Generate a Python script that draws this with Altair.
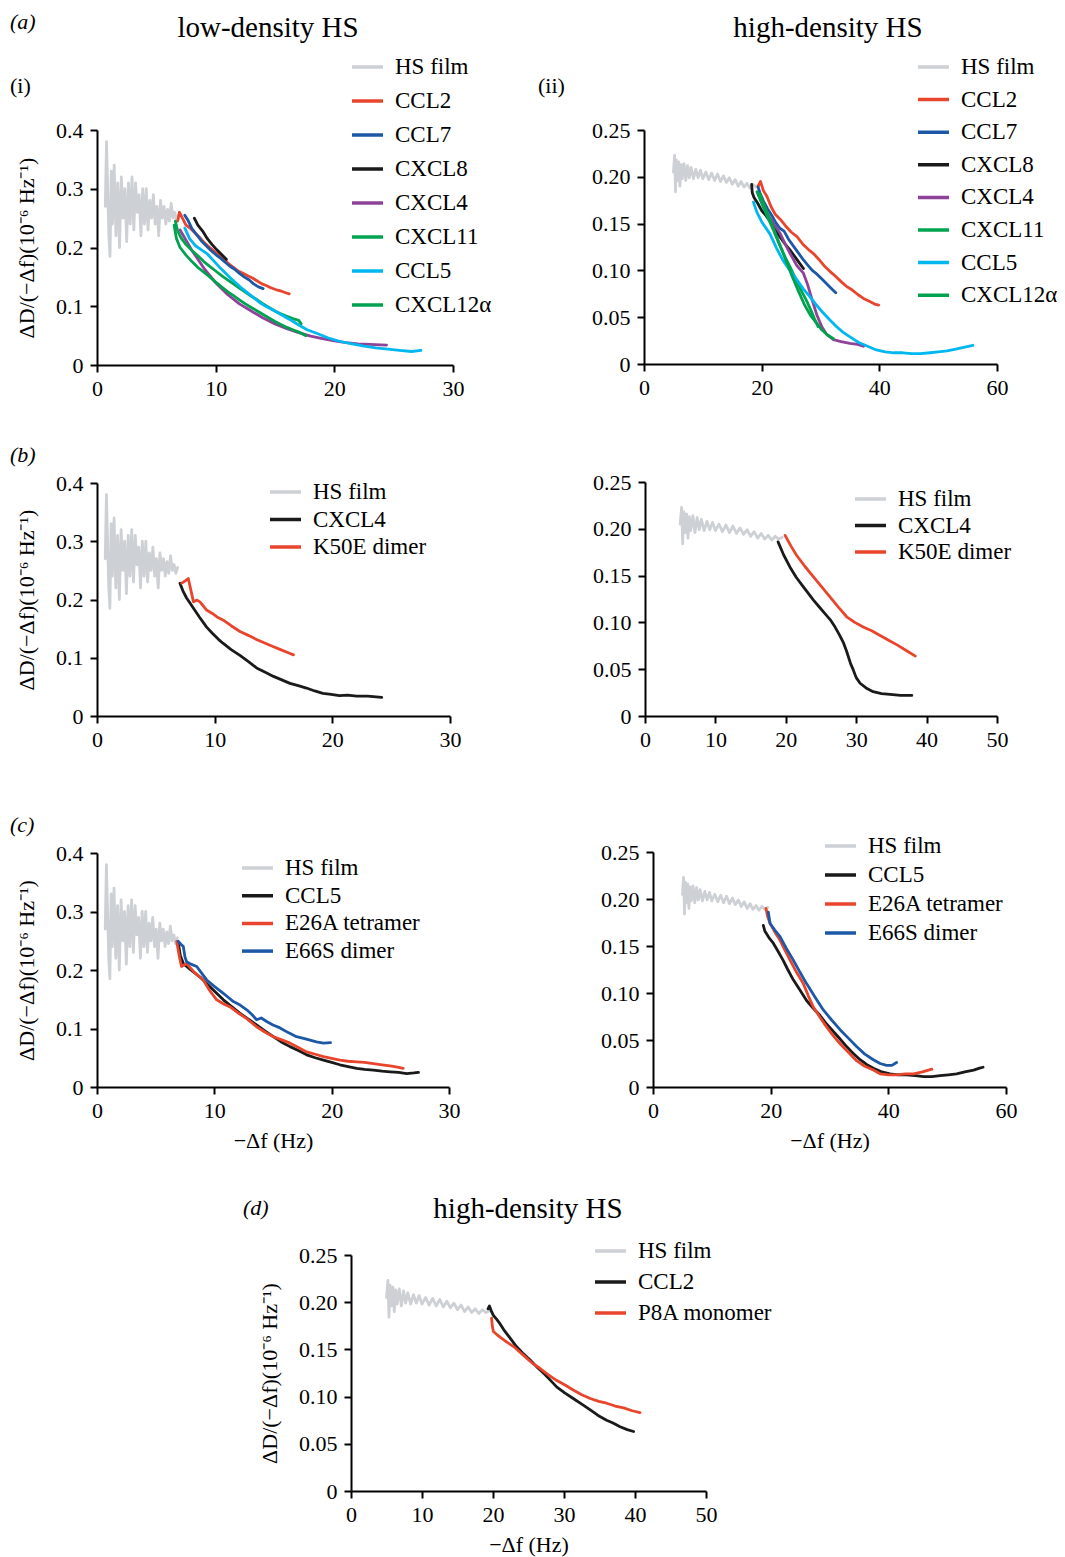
import altair as alt
import pandas as pd

# ---------------- data ----------------
low_hs = [(0.7,0.27),(0.8,0.38),(0.9,0.30),(1.0,0.22),(1.1,0.185),(1.2,0.33),(1.3,0.24),
          (1.45,0.34),(1.6,0.22),(1.75,0.31),(1.9,0.20),(2.05,0.32),(2.2,0.25),(2.35,0.30),
          (2.5,0.21),(2.65,0.31),(2.8,0.24),(2.95,0.32),(3.1,0.23),(3.25,0.31),(3.4,0.26),
          (3.55,0.29),(3.7,0.22),(3.85,0.30),(4.0,0.24),(4.15,0.30),(4.3,0.23),(4.45,0.28),
          (4.6,0.25),(4.75,0.29),(4.9,0.24),(5.05,0.27),(5.2,0.22),(5.35,0.28),(5.5,0.25),
          (5.65,0.27),(5.8,0.24),(5.95,0.265),(6.1,0.245),(6.25,0.275),(6.4,0.25),(6.55,0.26),
          (6.7,0.245),(6.85,0.255)]
high_hs = [(5.0,0.205),(5.2,0.223),(5.35,0.184),(5.5,0.218),(5.7,0.196),(5.9,0.216),(6.1,0.19),
           (6.3,0.213),(6.5,0.198),(6.8,0.214),(7.1,0.196),(7.4,0.212),(7.7,0.199),(8.0,0.21),
           (8.4,0.198),(8.8,0.208),(9.2,0.199),(9.6,0.207),(10.0,0.198),(10.5,0.205),(11.0,0.197),
           (11.5,0.204),(12.0,0.196),(12.5,0.203),(13.0,0.195),(13.5,0.201),(14.0,0.194),
           (14.5,0.199),(15.0,0.192),(15.5,0.197),(16.0,0.19),(16.5,0.195),(17.0,0.189),
           (17.5,0.193),(18.0,0.188),(18.5,0.192),(19.0,0.189),(19.5,0.191)]

# (a)(i) low-density
ai_ccl2 = [(6.8,0.245),(6.95,0.26),(7.2,0.25),(7.5,0.238),(7.9,0.232),(8.3,0.224),(8.7,0.216),
           (9.1,0.207),(9.5,0.2),(9.9,0.193),(10.3,0.187),(10.7,0.181),(11.1,0.172),(11.5,0.166),
           (11.9,0.16),(12.3,0.156),(12.7,0.152),(13.1,0.148),(13.5,0.143),(13.9,0.138),
           (14.3,0.135),(14.7,0.131),(15.1,0.128),(15.5,0.126),(15.9,0.123),(16.2,0.121)]
ai_ccl7 = [(7.4,0.255),(7.7,0.245),(8.0,0.232),(8.4,0.222),(8.8,0.211),(9.2,0.203),(9.6,0.195),
           (10.0,0.188),(10.4,0.182),(10.8,0.175),(11.2,0.168),(11.6,0.163),(12.0,0.156),
           (12.4,0.15),(12.8,0.145),(13.2,0.138),(13.6,0.133),(14.0,0.13)]
ai_cxcl8 = [(8.2,0.25),(8.5,0.238),(8.9,0.228),(9.3,0.215),(9.7,0.205),(10.1,0.196),(10.5,0.188),
            (10.9,0.18)]
ai_cxcl4 = [(7.0,0.23),(8.0,0.195),(9.0,0.165),(10.0,0.14),(11.0,0.12),(12.0,0.104),(13.0,0.092),
            (14.0,0.08),(15.0,0.07),(16.0,0.062),(17.0,0.055),(18.0,0.049),(19.0,0.045),
            (20.0,0.041),(21.0,0.038),(22.0,0.036),(23.0,0.035),(24.4,0.034)]
ai_cxcl11 = [(6.6,0.245),(6.8,0.228),(7.1,0.216),(7.5,0.205),(8.0,0.195),(8.5,0.186),(9.0,0.176),
             (9.5,0.168),(10.0,0.16),(10.5,0.152),(11.0,0.145),(11.5,0.138),(12.0,0.131),
             (12.5,0.124),(13.0,0.117),(13.5,0.111),(14.0,0.104),(14.5,0.098),(15.0,0.092),
             (15.5,0.087),(16.0,0.083),(16.5,0.079),(17.0,0.076),(17.2,0.07)]
ai_ccl5 = [(7.4,0.233),(7.8,0.215),(8.3,0.203),(8.8,0.196),(9.3,0.189),(9.8,0.178),(10.3,0.167),
           (10.8,0.157),(11.3,0.147),(11.8,0.138),(12.3,0.129),(12.8,0.121),(13.3,0.113),
           (13.8,0.105),(14.3,0.099),(14.8,0.094),(15.5,0.086),(16.2,0.078),(17.0,0.068),
           (17.7,0.06),(18.5,0.054),(19.5,0.046),(20.5,0.04),(21.5,0.036),(22.5,0.032),
           (23.5,0.029),(24.5,0.027),(25.5,0.025),(26.5,0.023),(27.3,0.025)]
ai_cxcl12 = [(6.5,0.238),(6.7,0.215),(7.0,0.2),(7.5,0.187),(8.0,0.176),(8.5,0.166),(9.0,0.158),
             (9.5,0.15),(10.0,0.141),(10.5,0.133),(11.0,0.125),(11.5,0.118),(12.0,0.111),
             (12.5,0.104),(13.0,0.098),(13.5,0.092),(14.0,0.086),(14.5,0.08),(15.0,0.074),
             (15.5,0.069),(16.0,0.064),(16.5,0.06),(17.0,0.056),(17.6,0.05)]

# (a)(ii) high-density
aii_ccl2 = [(19.4,0.19),(19.8,0.195),(20.3,0.185),(20.9,0.179),(21.6,0.168),(22.3,0.16),(23.1,0.155),
            (24.0,0.148),(25.0,0.141),(26.0,0.136),(27.0,0.128),(28.0,0.122),(28.8,0.118),
            (29.7,0.112),(30.6,0.105),(31.6,0.099),(32.5,0.094),(33.5,0.088),(34.4,0.083),
            (35.4,0.079),(36.4,0.074),(37.3,0.07),(38.3,0.067),(39.2,0.064),(39.9,0.063)]
aii_ccl7 = [(19.4,0.189),(19.7,0.183),(20.3,0.174),(21.0,0.166),(21.7,0.159),(22.4,0.151),
            (23.1,0.145),(23.8,0.142),(24.6,0.133),(25.4,0.126),(26.2,0.119),(27.0,0.112),
            (27.8,0.106),(28.6,0.1),(29.4,0.096),(30.2,0.091),(31.0,0.086),(31.8,0.081),(32.6,0.076)]
aii_cxcl8 = [(18.3,0.192),(18.4,0.183),(18.7,0.178),(19.3,0.172),(20.0,0.164),(20.8,0.158),
             (21.6,0.151),(22.4,0.143),(23.2,0.135),(24.0,0.128),(24.8,0.122),(25.6,0.115),
             (26.4,0.108),(27.1,0.102)]
aii_cxcl4 = [(19.4,0.182),(20.3,0.168),(21.2,0.158),(22.1,0.149),(23.1,0.14),(24.0,0.128),
             (25.0,0.116),(26.0,0.105),(27.1,0.097),(27.8,0.085),(28.6,0.068),(29.4,0.052),
             (30.2,0.04),(31.0,0.032),(32.2,0.026),(33.5,0.024),(35.0,0.022),(36.3,0.021),(37.3,0.019)]
aii_cxcl11 = [(19.2,0.184),(19.6,0.178),(20.2,0.169),(21.0,0.157),(22.0,0.143),(23.0,0.128),
              (24.0,0.114),(24.8,0.104),(25.7,0.092),(26.6,0.08),(27.6,0.068),(28.4,0.057),
              (29.0,0.048),(29.6,0.04)]
aii_ccl5 = [(18.6,0.173),(19.2,0.162),(20.0,0.152),(21.4,0.139),(22.5,0.124),(23.6,0.111),
            (24.8,0.1),(26.0,0.09),(27.1,0.08),(28.2,0.072),(29.3,0.063),(30.4,0.055),(31.6,0.047),
            (32.7,0.04),(33.8,0.034),(35.0,0.029),(36.5,0.023),(38.0,0.019),(39.5,0.015),
            (41.0,0.013),(42.5,0.012),(44.0,0.012),(45.5,0.011),(47.0,0.011),(48.6,0.012),
            (50.0,0.013),(51.5,0.014),(53.0,0.016),(54.5,0.018),(55.9,0.02)]
aii_cxcl12 = [(19.7,0.182),(20.4,0.17),(21.3,0.156),(22.3,0.14),(23.3,0.124),(24.3,0.108),
              (25.3,0.092),(26.3,0.077),(27.3,0.063),(28.3,0.052),(29.3,0.044),(30.3,0.036),
              (31.2,0.031),(32.2,0.027)]

# (b) CXCL4 / K50E dimer
bl_cxcl4 = [(7.05,0.228),(7.3,0.215),(7.6,0.203),(7.9,0.194),(8.3,0.182),(8.7,0.17),(9.3,0.153),
            (9.8,0.142),(10.3,0.132),(10.7,0.125),(11.4,0.114),(12.15,0.104),(12.9,0.093),
            (13.6,0.082),(14.3,0.075),(15.0,0.068),(15.7,0.062),(16.4,0.056),(17.1,0.052),
            (17.8,0.048),(18.5,0.043),(19.2,0.039),(19.9,0.037),(20.6,0.035),(21.3,0.036),
            (22.06,0.034),(23.0,0.034),(24.2,0.032)]
bl_k50e = [(7.2,0.228),(7.5,0.232),(7.76,0.236),(8.0,0.214),(8.2,0.196),(8.5,0.199),(8.75,0.196),
           (9.3,0.182),(9.8,0.176),(10.2,0.17),(10.7,0.165),(11.4,0.155),(12.15,0.145),(12.9,0.138),
           (13.6,0.131),(14.3,0.125),(15.0,0.119),(15.6,0.114),(16.2,0.109),(16.7,0.105)]
br_cxcl4 = [(18.9,0.186),(19.7,0.172),(20.6,0.159),(21.5,0.148),(22.5,0.138),(23.2,0.131),
            (23.9,0.124),(24.7,0.117),(25.5,0.11),(26.3,0.103),(27.0,0.095),(27.6,0.087),
            (28.2,0.078),(28.6,0.07),(28.9,0.063),(29.2,0.056),(29.6,0.049),(30.0,0.041),
            (30.55,0.035),(31.4,0.03),(32.4,0.026),(33.6,0.024),(34.8,0.023),(36.3,0.022),(37.9,0.022)]
br_k50e = [(19.9,0.193),(20.7,0.182),(21.5,0.172),(22.7,0.16),(23.9,0.149),(25.1,0.138),
           (26.3,0.127),(27.5,0.116),(28.65,0.106),(29.8,0.1),(31.0,0.095),(32.2,0.091),
           (33.4,0.086),(34.6,0.081),(35.8,0.076),(37.1,0.07),(38.4,0.064)]

# (c) CCL5 / E26A tetramer / E66S dimer
cl_ccl5 = [(6.93,0.246),(7.1,0.225),(7.36,0.211),(8.0,0.2),(8.78,0.188),(9.8,0.168),(10.77,0.149),
           (11.5,0.137),(12.19,0.126),(12.9,0.116),(13.6,0.106),(14.3,0.096),(15.03,0.086),
           (15.7,0.077),(16.45,0.069),(17.2,0.062),(17.87,0.055),(18.6,0.05),(19.3,0.046),
           (20.0,0.042),(20.7,0.038),(21.4,0.035),(22.13,0.032),(22.8,0.03),(23.55,0.029),
           (24.3,0.027),(24.98,0.026),(25.7,0.025),(26.4,0.023),(27.0,0.024),(27.4,0.025)]
cl_e26a = [(6.79,0.249),(7.0,0.225),(7.2,0.206),(7.64,0.211),(8.3,0.196),(9.06,0.183),(9.6,0.165),
           (10.2,0.149),(10.8,0.142),(11.34,0.137),(12.0,0.127),(12.76,0.117),(13.6,0.103),
           (14.3,0.094),(15.03,0.086),(15.7,0.081),(16.45,0.075),(17.2,0.067),(17.87,0.06),
           (18.6,0.056),(19.3,0.052),(20.0,0.049),(20.7,0.046),(21.4,0.044),(22.13,0.043),
           (22.8,0.042),(23.55,0.04),(24.3,0.038),(24.98,0.036),(25.6,0.034),(26.1,0.032)]
cl_e66s = [(6.93,0.249),(7.15,0.244),(7.36,0.24),(7.5,0.222),(7.64,0.214),(8.0,0.21),(8.5,0.206),
           (8.9,0.195),(9.35,0.183),(10.0,0.172),(10.77,0.16),(11.2,0.153),(11.62,0.146),
           (12.2,0.14),(12.76,0.132),(13.2,0.124),(13.6,0.115),(14.0,0.118),(14.46,0.112),
           (15.0,0.106),(15.6,0.101),(16.3,0.093),(17.0,0.086),(17.6,0.083),(18.16,0.08),
           (18.7,0.077),(19.3,0.075),(19.9,0.076)]
cr_ccl5 = [(18.75,0.172),(19.0,0.166),(19.3,0.163),(19.8,0.158),(20.45,0.153),(21.2,0.145),
           (22.1,0.135),(22.9,0.125),(23.85,0.114),(25.0,0.103),(26.1,0.092),(27.2,0.084),
           (28.4,0.076),(29.5,0.067),(30.65,0.059),(31.8,0.051),(32.9,0.043),(34.0,0.036),
           (35.2,0.029),(36.3,0.024),(37.45,0.02),(38.9,0.016),(40.3,0.014),(41.7,0.013),
           (43.1,0.013),(44.6,0.012),(46.0,0.011),(47.4,0.011),(48.8,0.012),(50.2,0.013),
           (51.6,0.014),(53.0,0.016),(54.5,0.018),(55.5,0.02),(56.1,0.021)]
cr_e26a = [(19.2,0.19),(19.5,0.181),(19.9,0.174),(20.7,0.165),(21.6,0.156),(22.4,0.146),
           (23.3,0.135),(24.4,0.122),(25.55,0.11),(26.4,0.097),(27.25,0.085),(28.4,0.074),
           (29.5,0.064),(30.6,0.055),(31.8,0.046),(33.2,0.037),(34.6,0.028),(36.0,0.022),
           (37.45,0.018),(38.6,0.014),(40.0,0.013),(41.4,0.013),(42.9,0.014),(44.3,0.014),
           (45.8,0.016),(47.4,0.019)]
cr_e66s = [(19.6,0.186),(19.8,0.178),(19.9,0.174),(20.7,0.167),(21.6,0.16),(22.7,0.147),
           (23.85,0.135),(25.0,0.122),(26.1,0.11),(27.5,0.096),(28.95,0.082),(30.4,0.071),
           (31.8,0.061),(33.2,0.052),(34.6,0.043),(36.0,0.035),(37.45,0.029),(38.6,0.025),
           (39.7,0.023),(40.6,0.023),(41.4,0.026)]

# (d) CCL2 / P8A monomer
d_ccl2 = [(19.3,0.193),(19.5,0.196),(19.8,0.19),(20.05,0.186),(20.5,0.182),(21.0,0.177),
          (21.5,0.171),(21.9,0.167),(22.6,0.16),(23.3,0.153),(24.2,0.146),(25.2,0.139),
          (26.1,0.132),(27.1,0.125),(28.0,0.118),(29.0,0.11),(30.1,0.104),(31.3,0.098),
          (32.5,0.092),(33.7,0.086),(34.8,0.08),(36.0,0.075),(36.9,0.072),(37.9,0.068),
          (38.9,0.065),(39.8,0.063)]
d_p8a = [(19.8,0.183),(19.9,0.175),(20.05,0.169),(20.5,0.166),(21.0,0.163),(21.9,0.158),
         (22.9,0.153),(23.8,0.147),(24.7,0.141),(25.6,0.135),(26.6,0.13),(27.8,0.123),
         (29.0,0.117),(30.2,0.112),(31.3,0.107),(32.5,0.102),(33.7,0.098),(34.9,0.095),
         (36.0,0.093),(37.2,0.09),(38.4,0.088),(39.6,0.085),(40.7,0.083)]

ticks_30 = [0, 10, 20, 30]
ticks_50 = [0, 10, 20, 30, 40, 50]
ticks_60 = [0, 20, 40, 60]
yticks_04 = [0, 0.1, 0.2, 0.3, 0.4]
yticks_025 = [0, 0.05, 0.10, 0.15, 0.20, 0.25]

# ---------------- styling ----------------
GRAY = '#cdd0d4'; RED = '#e8452c'; BLUE = '#1d58a7'; BLACK = '#1a1a1a'
PURPLE = '#8f4299'; GREEN = '#00a551'; CYAN = '#00b7ef'; GREEN2 = '#00a14f'
FONT = 'Liberation Serif'
W, H = 1049, 1549
YTITLE = 'ΔD/(−Δf)(10⁻⁶ Hz⁻¹)'
XTITLE = '−Δf (Hz)'
LEG_FS = 23


def panel(series, colors, xdom, xticks, ydom, yticks, xr, yr, leg, ytitle=None, xtitle=None):
    rows = []
    for name, pts in series:
        for i, (x, y) in enumerate(pts):
            rows.append({'s': name, 'i': i, 'x': x, 'y': y})
    df = pd.DataFrame(rows)
    names = [n for n, _ in series]
    fmt = '.1f' if ydom[1] > 0.3 else '.2f'
    common = dict(grid=False, domainColor='black', domainWidth=2, tickColor='black',
                  tickWidth=2, tickSize=7, labelFont=FONT, labelFontSize=22,
                  labelColor='black', labelFlush=False, labelOverlap=False,
                  titleFont=FONT, titleFontSize=22, titleFontWeight='normal', titleColor='black')
    xaxis = alt.Axis(orient='bottom', offset=yr[0] - H, values=xticks, format='d',
                     labelPadding=6, titlePadding=9, **common)
    yaxis = alt.Axis(orient='left', offset=-xr[0], values=yticks, labelPadding=7,
                     labelExpr=f"datum.value == 0 ? '0' : format(datum.value, '{fmt}')",
                     titlePadding=17, **common)
    lx, ly, step = leg
    legend = alt.Legend(orient='none', legendX=lx, legendY=ly, direction='vertical', title=None,
                        symbolType='stroke', symbolSize=961, symbolStrokeWidth=3.5,
                        labelFont=FONT, labelFontSize=LEG_FS, labelColor='black', labelOffset=10,
                        clipHeight=20, rowPadding=step - LEG_FS, padding=0, columns=1, labelLimit=300)
    return alt.Chart(df).mark_line(strokeWidth=2.8, strokeCap='round', strokeJoin='round').encode(
        x=alt.X('x:Q', scale=alt.Scale(domain=xdom, range=xr, nice=False, zero=False),
                axis=xaxis, title=xtitle),
        y=alt.Y('y:Q', scale=alt.Scale(domain=ydom, range=yr, nice=False, zero=False),
                axis=yaxis, title=ytitle),
        color=alt.Color('s:N', scale=alt.Scale(domain=names, range=colors), legend=legend),
        order='i:Q',
    )


def label(text, x, y, size=22, align='left', style='normal'):
    return alt.Chart(pd.DataFrame({'t': [text]})).mark_text(
        font=FONT, fontSize=size, align=align, baseline='alphabetic', color='black',
        fontStyle=style).encode(x=alt.value(x), y=alt.value(y), text='t:N')


p_ai = panel([('HS film', low_hs), ('CCL2', ai_ccl2), ('CCL7', ai_ccl7), ('CXCL8', ai_cxcl8),
              ('CXCL4', ai_cxcl4), ('CXCL11', ai_cxcl11), ('CCL5', ai_ccl5), ('CXCL12α', ai_cxcl12)],
             [GRAY, RED, BLUE, BLACK, PURPLE, GREEN, CYAN, GREEN2],
             [0, 30], ticks_30, [0, 0.4], yticks_04, [89, 445], [357, 122],
             (342, 49, 34), ytitle=YTITLE)
p_aii = panel([('HS film', high_hs), ('CCL2', aii_ccl2), ('CCL7', aii_ccl7), ('CXCL8', aii_cxcl8),
               ('CXCL4', aii_cxcl4), ('CXCL11', aii_cxcl11), ('CCL5', aii_ccl5), ('CXCL12α', aii_cxcl12)],
              [GRAY, RED, BLUE, BLACK, PURPLE, GREEN, CYAN, GREEN2],
              [0, 60], ticks_60, [0, 0.25], yticks_025, [636, 989], [356, 122],
              (908, 49, 32.6))
p_bl = panel([('HS film', low_hs), ('CXCL4', bl_cxcl4), ('K50E dimer', bl_k50e)],
             [GRAY, BLACK, RED], [0, 30], ticks_30, [0, 0.4], yticks_04, [89, 442], [708, 475],
             (260, 474, 27.5), ytitle=YTITLE)
p_br = panel([('HS film', high_hs), ('CXCL4', br_cxcl4), ('K50E dimer', br_k50e)],
             [GRAY, BLACK, RED], [0, 50], ticks_50, [0, 0.25], yticks_025, [637, 989], [708, 474],
             (845, 481, 26.5))
p_cl = panel([('HS film', low_hs), ('CCL5', cl_ccl5), ('E26A tetramer', cl_e26a), ('E66S dimer', cl_e66s)],
             [GRAY, BLACK, RED, BLUE], [0, 30], ticks_30, [0, 0.4], yticks_04, [89, 441], [1079, 845],
             (232, 850, 27.7), ytitle=YTITLE, xtitle=XTITLE)
p_cr = panel([('HS film', high_hs), ('CCL5', cr_ccl5), ('E26A tetramer', cr_e26a), ('E66S dimer', cr_e66s)],
             [GRAY, BLACK, RED, BLUE], [0, 60], ticks_60, [0, 0.25], yticks_025, [645, 998], [1079, 844],
             (815, 828, 29), xtitle=XTITLE)
p_d = panel([('HS film', high_hs), ('CCL2', d_ccl2), ('P8A monomer', d_p8a)],
            [GRAY, BLACK, RED], [0, 50], ticks_50, [0, 0.25], yticks_025, [343, 698], [1483, 1247],
            (585, 1233, 31), ytitle=YTITLE, xtitle=XTITLE)

labels = [
    label('(a)', 2, 21, style='italic'),
    label('low-density HS', 260, 29, size=29, align='center'),
    label('high-density HS', 820, 29, size=29, align='center'),
    label('(i)', 2, 85),
    label('(ii)', 530, 85),
    label('(b)', 2, 454, style='italic'),
    label('(c)', 2, 824, style='italic'),
    label('(d)', 235, 1207, style='italic'),
    label('high-density HS', 520, 1210, size=29, align='center'),
]

chart = alt.layer(p_ai, p_aii, p_bl, p_br, p_cl, p_cr, p_d, *labels).resolve_scale(
    x='independent', y='independent', color='independent'
).resolve_axis(x='independent', y='independent').resolve_legend(color='independent').properties(
    width=W, height=H, padding=0, autosize=alt.AutoSizeParams(type='none'), background='white'
).configure_view(stroke=None)

chart.save('out.html', embed_options={'renderer': 'svg', 'actions': False})
